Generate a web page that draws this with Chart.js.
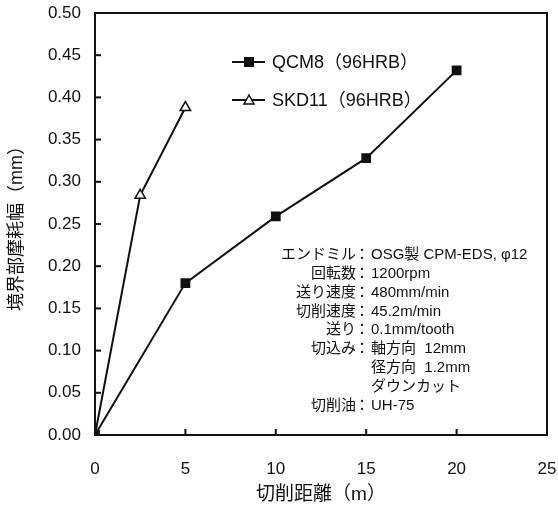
<!DOCTYPE html>
<html><head><meta charset="utf-8">
<script src="https://cdn.jsdelivr.net/npm/chart.js@4/dist/chart.umd.min.js"></script>
<style>html,body{margin:0;padding:0;background:#fff}#wrap{width:558px;height:510px}</style>
</head><body><div id="wrap"><canvas id="c" width="558" height="510"></canvas></div>
<script>
const qcmX = [0, 5, 10, 15, 20];
const qcmY = [0, 0.180, 0.259, 0.328, 0.432];
const skdX = [0, 2.5, 5];
const skdY = [0, 0.284, 0.388];
const seriesNames = ['QCM8（96HRB）', 'SKD11（96HRB）'];
const xTicks = [0, 5, 10, 15, 20, 25];
const yTicks = [0, 0.05, 0.10, 0.15, 0.20, 0.25, 0.30, 0.35, 0.40, 0.45, 0.50];
const xTitle = '切削距離（m）';
const yTitle = '境界部摩耗幅（mm）';
const noteLabels = ['エンドミル', '回転数', '送り速度', '切削速度', '送り', '切込み', '', '', '切削油'];
const noteValues = ['OSG製 CPM-EDS, φ12', '1200rpm', '480mm/min', '45.2m/min', '0.1mm/tooth', '軸方向  12mm', '径方向  1.2mm', 'ダウンカット', 'UH-75'];

const FONT = '"Liberation Sans", Arial, "Noto Sans CJK JP", sans-serif';
const JFONT = '"Liberation Sans", "Noto Sans CJK JP", sans-serif';

const overlay = {
  id: 'overlay',
  afterDraw(chart) {
    const ctx = chart.ctx, a = chart.chartArea;
    const xs = chart.scales.x, ys = chart.scales.y;
    ctx.save();
    ctx.strokeStyle = '#111';
    ctx.lineWidth = 2;
    ctx.strokeRect(a.left, a.top, a.right - a.left, a.bottom - a.top);
    xTicks.forEach(v => { const p = xs.getPixelForValue(v); ctx.beginPath(); ctx.moveTo(p, a.bottom); ctx.lineTo(p, a.bottom - 6); ctx.stroke(); });
    yTicks.forEach(v => { const p = ys.getPixelForValue(v); ctx.beginPath(); ctx.moveTo(a.left, p); ctx.lineTo(a.left + 6, p); ctx.stroke(); });
    // legend
    ctx.font = '18px ' + JFONT;
    ctx.fillStyle = '#111';
    ctx.textBaseline = 'middle';
    const ly = [62, 100];
    chart.data.datasets.forEach((ds, i) => {
      const y = ly[i];
      ctx.strokeStyle = '#111'; ctx.lineWidth = 2;
      ctx.beginPath(); ctx.moveTo(232, y); ctx.lineTo(265, y); ctx.stroke();
      if (i === 0) { ctx.fillRect(244, y - 5, 10, 10); }
      else {
        ctx.fillStyle = '#fff'; ctx.lineWidth = 1.5;
        ctx.beginPath(); ctx.moveTo(249, y - 5); ctx.lineTo(254, y + 4); ctx.lineTo(244, y + 4); ctx.closePath(); ctx.fill(); ctx.stroke();
        ctx.fillStyle = '#111';
      }
      ctx.textAlign = 'left';
      ctx.fillText(ds.label, 272, y + 1);
    });
    // note
    ctx.font = '15px ' + JFONT;
    const colonX = 362, y0 = 255, dy = 18.8;
    noteLabels.forEach((t, i) => {
      const y = y0 + i * dy;
      if (t) {
        ctx.textAlign = 'right'; ctx.fillText(t, colonX - 6, y);
        ctx.textAlign = 'center'; ctx.fillText('：', colonX, y);
      }
      ctx.textAlign = 'left'; ctx.fillText(noteValues[i], colonX + 9, y);
    });
    ctx.restore();
  }
};

new Chart(document.getElementById('c'), {
  type: 'scatter',
  data: {
    datasets: [
      { label: seriesNames[0], data: qcmX.map((x, i) => ({x, y: qcmY[i]})), showLine: true,
        borderColor: '#111', backgroundColor: '#111', borderWidth: 2,
        pointStyle: 'rect', pointRadius: 5.5, pointBackgroundColor: '#111', pointBorderColor: '#111' },
      { label: seriesNames[1], data: skdX.map((x, i) => ({x, y: skdY[i]})), showLine: true,
        borderColor: '#111', backgroundColor: '#fff', borderWidth: 2,
        pointStyle: 'triangle', pointRadius: 6, pointBorderWidth: 1.5, pointBackgroundColor: '#fff', pointBorderColor: '#111' }
    ]
  },
  options: {
    responsive: false, animation: false,
    layout: { padding: { left: 0, right: 11, top: 13, bottom: 0 } },
    plugins: { legend: { display: false }, tooltip: { enabled: false } },
    scales: {
      x: {
        type: 'linear', min: 0, max: 25,
        afterBuildTicks: s => { s.ticks = xTicks.map(v => ({value: v})); },
        afterFit: s => { s.height = 75; s.paddingLeft = 0; s.paddingRight = 0; },
        grid: { display: false, drawTicks: false },
        border: { display: false },
        ticks: { color: '#111', font: { size: 17, family: FONT }, padding: 24 },
        title: { display: true, text: xTitle, color: '#111', font: { size: 19, family: JFONT }, padding: { top: 11 } }
      },
      y: {
        type: 'linear', min: 0, max: 0.5,
        afterBuildTicks: s => { s.ticks = yTicks.map(v => ({value: v})); },
        afterFit: s => { s.width = 95; s.paddingTop = 0; s.paddingBottom = 0; },
        grid: { display: false, drawTicks: false },
        border: { display: false },
        ticks: { color: '#111', font: { size: 17, family: FONT }, padding: 14, callback: v => v.toFixed(2) },
        title: { display: true, text: yTitle, color: '#111', font: { size: 18, family: JFONT }, padding: { top: 6, bottom: 0 } }
      }
    }
  },
  plugins: [overlay]
});
</script></body></html>
